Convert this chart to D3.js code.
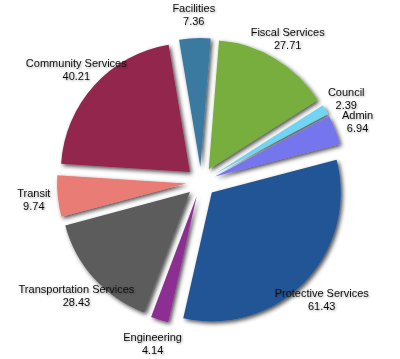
<!DOCTYPE html>
<html><head><meta charset="utf-8">
<script src="https://cdn.jsdelivr.net/npm/d3@7"></script>
<style>body{margin:0;background:#fff}svg{display:block}</style>
</head><body>
<script>
const categories = ["Facilities","Fiscal Services","Council","Admin","Protective Services","Engineering","Transportation Services","Transit","Community Services"];
const values = [7.36,27.71,2.39,6.94,61.43,4.14,28.43,9.74,40.21];
const valueLabels = ["7.36","27.71","2.39","6.94","61.43","4.14","28.43","9.74","40.21"];
const colors = ["#3a7aa0","#78ae3c","#6fd4f2","#7474ee","#245495","#8d2e93","#5b5b5b","#e97b74","#93264e"];

const W = 400, H = 359, cx = 201, cy = 182, R = 129, explode = 15, labelR = 168;
const svg = d3.select("body").append("svg").attr("width", W).attr("height", H);
const defs = svg.append("defs");
const f = defs.append("filter").attr("id","sh").attr("x","-20%").attr("y","-20%").attr("width","140%").attr("height","140%");
f.append("feDropShadow").attr("dx",2).attr("dy",2).attr("stdDeviation",2).attr("flood-color","#000").attr("flood-opacity",0.7);
const ft = defs.append("filter").attr("id","tsh").attr("x","-10%").attr("y","-30%").attr("width","120%").attr("height","160%");
ft.append("feDropShadow").attr("dx",1).attr("dy",1).attr("stdDeviation",1).attr("flood-color","#000").attr("flood-opacity",0.35);

const data = categories.map((c,i)=>({name:c, value:values[i], label:valueLabels[i], color:colors[i]}));
const pie = d3.pie().value(d=>d.value).sort(null)
  .startAngle(-9.5*Math.PI/180).endAngle(350.5*Math.PI/180);
const arcs = pie(data);
const arc = d3.arc().innerRadius(0).outerRadius(R);
const g = svg.append("g").attr("transform",`translate(${cx},${cy})`);

g.selectAll("path").data(arcs).join("path")
  .attr("d", arc)
  .attr("fill", d=>d.data.color)
  .attr("filter","url(#sh)")
  .attr("transform", d=>{
    const m=(d.startAngle+d.endAngle)/2;
    return `translate(${explode*Math.sin(m)},${-explode*Math.cos(m)})`;
  });

const lg = g.selectAll("g.lab").data(arcs).join("g").attr("class","lab")
  .attr("transform", d=>{
    const m=(d.startAngle+d.endAngle)/2;
    return `translate(${labelR*Math.sin(m)},${-labelR*Math.cos(m)})`;
  })
  .attr("filter","url(#tsh)");
lg.append("text").attr("text-anchor","middle").attr("y",-2)
  .style("font-family","'Liberation Sans', Arial, sans-serif").style("font-size","11px").attr("fill","#111")
  .text(d=>d.data.name);
lg.append("text").attr("text-anchor","middle").attr("y",11)
  .style("font-family","'Liberation Sans', Arial, sans-serif").style("font-size","11px").attr("fill","#111")
  .text(d=>d.data.label);
</script>
</body></html>
